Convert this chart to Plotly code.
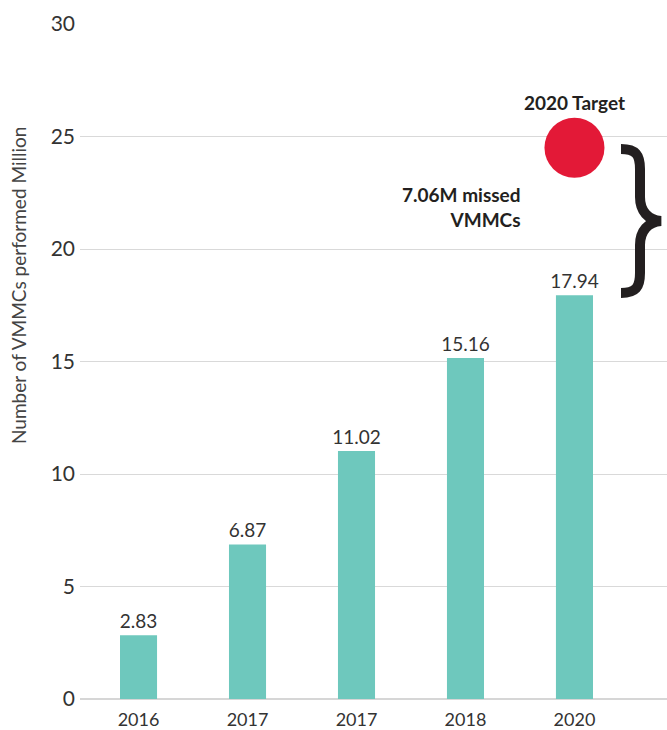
import plotly.graph_objects as go

# ---- data ----
year_labels = ["2016", "2017", "2017", "2018", "2020"]
vmmc_millions = [2.83, 6.87, 11.02, 15.16, 17.94]
bar_text = ["2.83", "6.87", "11.02", "15.16", "17.94"]
target_label = "2020 Target"
target_value = 24.5
missed_label = "7.06M missed<br>VMMCs"
y_title = "Number of VMMCs performed Million"

positions = list(range(len(year_labels)))

# layout geometry
W, H = 667, 730
ML, MR, MT, MB = 80, 0, 24, 31
XR = [-0.537, 4.849]
YR = [0, 30]
pw, ph = W - ML - MR, H - MT - MB


def px2x(px):
    return XR[0] + (px - ML) / pw * (XR[1] - XR[0])


def py2y(py):
    return YR[1] - (py - MT) / ph * (YR[1] - YR[0])


FONT = "Lato"
BAR_COLOR = "#6ec8bd"
RED = "#e31937"

fig = go.Figure()
fig.add_trace(go.Bar(
    x=positions, y=vmmc_millions, width=0.34,
    marker=dict(color=BAR_COLOR, line=dict(width=0)),
    text=bar_text, textposition="outside", cliponaxis=False,
    constraintext="none",
    textfont=dict(family=FONT, size=19, color="#333333"),
    hoverinfo="skip", showlegend=False,
))

fig.add_trace(go.Scatter(
    x=[positions[-1]], y=[target_value], mode="markers",
    marker=dict(size=60, color=RED, line=dict(width=0)),
    hoverinfo="skip", showlegend=False, cliponaxis=False,
))

# curly brace (decoration) between bar top and target
top_y, bot_y = 149, 293
mid_y = (top_y + bot_y) / 2


def P(px, py):
    return f"{px2x(px)},{py2y(py)}"


path = (
    f"M {P(621, top_y)} "
    f"C {P(636, top_y)} {P(640, top_y + 6)} {P(640, top_y + 20)} "
    f"L {P(640, mid_y - 24)} "
    f"C {P(640, mid_y - 10)} {P(648, mid_y - 1)} {P(661, mid_y)} "
    f"C {P(648, mid_y + 1)} {P(640, mid_y + 10)} {P(640, mid_y + 24)} "
    f"L {P(640, bot_y - 20)} "
    f"C {P(640, bot_y - 6)} {P(636, bot_y)} {P(621, bot_y)}"
)
fig.add_shape(type="path", path=path, xref="x", yref="y",
              line=dict(color="#231f20", width=10), layer="above")

fig.add_annotation(x=positions[-1], y=py2y(102), text=f"<b>{target_label}</b>",
                   showarrow=False, xref="x", yref="y",
                   font=dict(family=FONT, size=19, color="#231f20"))
fig.add_annotation(x=px2x(523), y=py2y(207), text=f"<b>{missed_label}</b>",
                   showarrow=False, xref="x", yref="y", xanchor="right",
                   align="right",
                   font=dict(family=FONT, size=19, color="#231f20"))

fig.add_annotation(x=(18 - ML) / pw, y=(H - MB - 286) / ph, xref="paper", yref="paper",
                   text=y_title, textangle=-90, showarrow=False,
                   xanchor="center", yanchor="middle",
                   font=dict(family=FONT, size=19, color="#444444"))

fig.update_layout(
    width=W, height=H,
    margin=dict(l=ML, r=MR, t=MT, b=MB),
    paper_bgcolor="white", plot_bgcolor="white",
    xaxis=dict(range=XR, tickmode="array", tickvals=positions, ticktext=year_labels,
               showgrid=False, zeroline=False, showline=False, ticks="",
               ticklabelstandoff=8,
               tickfont=dict(family=FONT, size=18, color="#333333"), fixedrange=True),
    yaxis=dict(range=YR, dtick=5, tick0=0, showgrid=True, gridcolor="#d9d9d9",
               gridwidth=1, zeroline=True, zerolinecolor="#d6d6d6", zerolinewidth=2,
               showline=False, ticks="", ticklabelstandoff=4,
               tickfont=dict(family=FONT, size=21, color="#333333"), fixedrange=True),
    font=dict(family=FONT),
)

fig.write_html("out.html")
